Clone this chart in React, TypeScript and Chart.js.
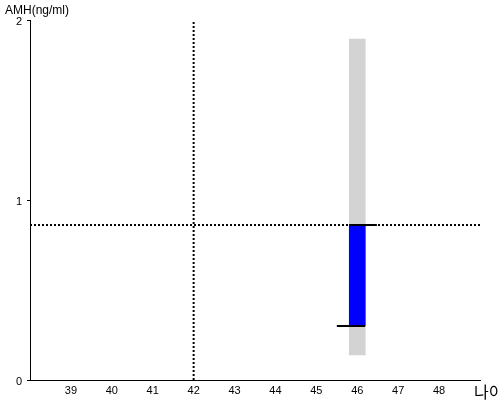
import React, { useEffect, useRef } from "react";
import { Chart, registerables } from "chart.js";

Chart.register(...registerables);

const xTicks = [39, 40, 41, 42, 43, 44, 45, 46, 47, 48];
const xRange = [38, 49];
const yRange = [0, 2];
const ageMarker = 42;
const amhValue = 0.861;
const rangeBar = { age: 46, low: 0.139, high: 1.894 };
const valueBar = { age: 46, low: 0.3, high: 0.861 };
const topWhisker = [45.8, 46.48];
const bottomWhisker = [45.5, 46.19];
const yTitle = "AMH(ng/ml)";
const xTitle = "나이";

const titlePlugin = {
  id: "titles",
  afterDraw(chart: any) {
    const ctx = chart.ctx;
    ctx.save();
    ctx.fillStyle = "#000";
    ctx.font = "12px 'Liberation Sans', Arial, sans-serif";
    ctx.textAlign = "left";
    ctx.textBaseline = "alphabetic";
    ctx.fillText(yTitle, 5, 14);
    ctx.font = "16px 'Noto Sans CJK KR', sans-serif";
    ctx.textBaseline = "bottom";
    ctx.fillText(xTitle, 474, 400);
    ctx.restore();
  },
};

export default function App() {
  const ref = useRef<HTMLCanvasElement>(null);
  useEffect(() => {
    document.body.style.margin = "0";
    Chart.defaults.font.family = "'Liberation Sans', Arial, sans-serif";
    Chart.defaults.font.size = 11;
    Chart.defaults.color = "#000";
    const chart = new Chart(ref.current!, {
      type: "bar",
      data: {
        datasets: [
          {
            type: "line",
            data: [
              { x: xRange[0], y: amhValue },
              { x: xRange[1], y: amhValue },
            ],
            borderColor: "#000",
            borderWidth: 2,
            borderDash: [2, 2],
            pointRadius: 0,
            order: 5,
          } as any,
          {
            type: "line",
            data: [
              { x: ageMarker, y: yRange[0] },
              { x: ageMarker, y: yRange[1] },
            ],
            borderColor: "#000",
            borderWidth: 2,
            borderDash: [2, 2],
            pointRadius: 0,
            order: 5,
          } as any,
          {
            type: "bar",
            data: [{ x: rangeBar.age, y: [rangeBar.low, rangeBar.high] }],
            backgroundColor: "#d3d3d3",
            barThickness: 16,
            grouped: false,
            order: 4,
          } as any,
          {
            type: "bar",
            data: [{ x: valueBar.age, y: [valueBar.low, valueBar.high] }],
            backgroundColor: "#0000ff",
            barThickness: 16,
            grouped: false,
            order: 3,
          } as any,
          {
            type: "line",
            data: [
              { x: topWhisker[0], y: valueBar.high },
              { x: topWhisker[1], y: valueBar.high },
            ],
            borderColor: "#000",
            borderWidth: 2,
            pointRadius: 0,
            order: 1,
          } as any,
          {
            type: "line",
            data: [
              { x: bottomWhisker[0], y: valueBar.low },
              { x: bottomWhisker[1], y: valueBar.low },
            ],
            borderColor: "#000",
            borderWidth: 2,
            pointRadius: 0,
            order: 1,
          } as any,
        ],
      },
      options: {
        animation: false,
        responsive: false,
        layout: { padding: { top: 20, right: 20, left: 0, bottom: 0 } },
        plugins: { legend: { display: false }, tooltip: { enabled: false } },
        scales: {
          x: {
            type: "linear",
            min: xRange[0],
            max: xRange[1],
            offset: false,
            afterBuildTicks: (s: any) => {
              s.ticks = xTicks.map((v) => ({ value: v }));
            },
            afterFit: (s: any) => {
              s.height = 20;
            },
            grid: { display: false },
            border: { display: true, color: "#000", width: 1 },
            ticks: { padding: -4, maxRotation: 0, autoSkip: false, color: "#000" },
          },
          y: {
            type: "linear",
            min: yRange[0],
            max: yRange[1],
            afterFit: (s: any) => {
              s.width = 30;
            },
            grid: {
              display: true,
              drawOnChartArea: false,
              drawTicks: true,
              tickLength: 3,
              color: "#000",
            },
            border: { display: true, color: "#000", width: 1 },
            ticks: { stepSize: 1, padding: 5, color: "#000", labelOffset: 2 },
          },
        },
      },
      plugins: [titlePlugin],
    });
    return () => chart.destroy();
  }, []);
  return (
    <div style={{ position: "fixed", left: 0, top: 0, width: 500, height: 400 }}>
      <canvas ref={ref} width={500} height={400} />
    </div>
  );
}
